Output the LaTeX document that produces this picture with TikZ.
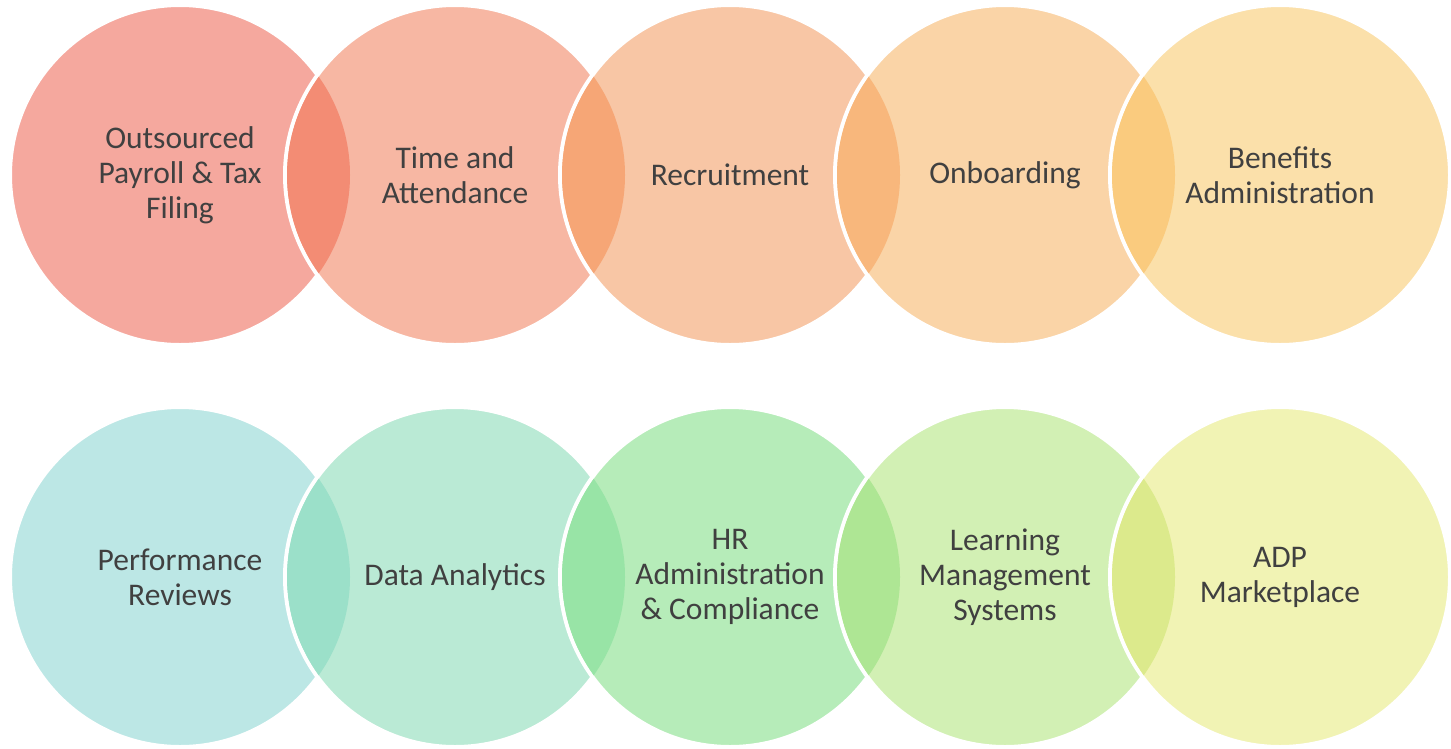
\documentclass[tikz,border=0pt]{standalone}
\usepackage{fontspec}
\setmainfont{Carlito}
\usepackage{tikz}

\definecolor{txt}{HTML}{404040}
% top row
\definecolor{payc}{HTML}{F5A89E}
\definecolor{timec}{HTML}{F7B7A3}
\definecolor{recrc}{HTML}{F8C6A5}
\definecolor{onbc}{HTML}{FAD4A7}
\definecolor{benc}{HTML}{FBE0AA}
\definecolor{lensA}{HTML}{F38C74}
\definecolor{lensB}{HTML}{F6A676}
\definecolor{lensC}{HTML}{F8B77C}
\definecolor{lensD}{HTML}{FACB7E}
% bottom row
\definecolor{perfc}{HTML}{BCE7E5}
\definecolor{datac}{HTML}{BAEAD5}
\definecolor{hrc}{HTML}{B6ECB9}
\definecolor{lmsc}{HTML}{D2F0B4}
\definecolor{adpc}{HTML}{F1F3B4}
\definecolor{lensE}{HTML}{9BE0C9}
\definecolor{lensF}{HTML}{98E4A6}
\definecolor{lensG}{HTML}{AEE694}
\definecolor{lensH}{HTML}{DCEA8C}

\tikzset{
  venn/.style={circle, minimum size=340pt, inner sep=0pt, draw=white,
    line width=4pt, text=txt, align=center,
    font=\fontsize{31.5}{35}\selectfont}
}

\begin{document}
\begin{tikzpicture}[x=1pt, y=-1pt]
         \useasboundingbox (0,0) rectangle (1451,748);
         % top row
         \node[venn, fill=payc] (pay) at (180,175) {Outsourced\\Payroll \& Tax\\Filing};
         \node[venn, fill=timec] (time) at (455,175) {Time and\\Attendance};
         \node[venn, fill=recrc] (recr) at (730,175) {Recruitment};
         \node[venn, fill=onbc] (onb) at (1005,175) {Onboarding};
         \node[venn, fill=benc] (ben) at (1280,175) {Benefits\\Administration};
         % bottom row
         \node[venn, fill=perfc] (perf) at (180,577) {Performance\\Reviews};
         \node[venn, fill=datac] (data) at (455,577) {Data Analytics};
         \node[venn, fill=hrc] (hr) at (730,577) {HR\\Administration\\\& Compliance};
         \node[venn, fill=lmsc] (lms) at (1005,577) {Learning\\Management\\Systems};
         \node[venn, fill=adpc] (adp) at (1280,577) {ADP\\Marketplace};
         % overlaps
         \foreach \a/\b/\col in {pay/time/lensA, time/recr/lensB, recr/onb/lensC, onb/ben/lensD,
                                 perf/data/lensE, data/hr/lensF, hr/lms/lensG, lms/adp/lensH} {
            \begin{scope}
               \clip (\a.center) circle (170pt);
               \fill[\col] (\b.center) circle (168pt);
            \end{scope}
         }
      \end{tikzpicture}
\end{document}
